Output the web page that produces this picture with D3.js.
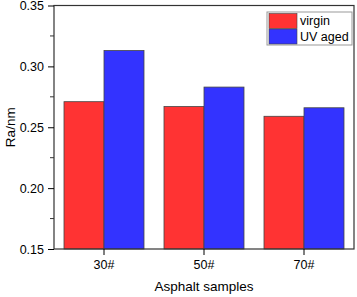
<!DOCTYPE html>
<html>
<head>
<meta charset="utf-8">
<script src="https://cdn.jsdelivr.net/npm/d3@7"></script>
<style>
  body { margin: 0; background: #fff; }
  text { font-family: "Liberation Sans", Arial, sans-serif; }
</style>
</head>
<body>
<script>
const categories = ["30#", "50#", "70#"];
const seriesNames = ["virgin", "UV aged"];
const virgin = [0.271, 0.267, 0.259];
const uvAged = [0.313, 0.283, 0.266];
const yTicks = [0.15, 0.20, 0.25, 0.30, 0.35];
const colors = ["#ff3333", "#3333ff"];

const w = 357, h = 297;
const padL = 54, padR = 354, padT = 5.5, padB = 249;

const svg = d3.select("body").append("svg")
  .attr("width", w).attr("height", h);

const x0 = d3.scaleBand().domain(categories).range([padL, padR]).paddingInner(0.2).paddingOuter(0.1);
const x1 = d3.scaleBand().domain(seriesNames).range([0, x0.bandwidth()]);
const y = d3.scaleLinear().domain([0.15, 0.35]).range([padB, padT]);

const series = [virgin, uvAged];

// bars
categories.forEach((c, i) => {
  seriesNames.forEach((s, j) => {
    svg.append("rect")
      .attr("x", x0(c) + x1(s))
      .attr("y", y(series[j][i]))
      .attr("width", x1.bandwidth())
      .attr("height", y(0.15) - y(series[j][i]))
      .attr("fill", colors[j])
      .attr("stroke", "#444")
      .attr("stroke-width", 0.8);
  });
});

// frame
svg.append("rect")
  .attr("x", padL).attr("y", padT)
  .attr("width", padR - padL).attr("height", padB - padT)
  .attr("fill", "none").attr("stroke", "#333").attr("stroke-width", 1.2);

// y axis
const yAxis = d3.axisLeft(y).tickValues(yTicks).tickFormat(d3.format(".2f")).tickSize(6).tickPadding(4);
const gy = svg.append("g").attr("transform", `translate(${padL},0)`).call(yAxis);
gy.select(".domain").remove();
gy.selectAll("text").style("font-size", "12.5px").attr("fill", "#000");

// minor ticks
const minor = d3.range(0.175, 0.35, 0.05);
svg.append("g").selectAll("line").data(minor).enter().append("line")
  .attr("x1", padL - 4).attr("x2", padL)
  .attr("y1", d => y(d)).attr("y2", d => y(d))
  .attr("stroke", "#333");

// x axis
const xAxis = d3.axisBottom(x0).tickSize(6).tickPadding(5);
const gx = svg.append("g").attr("transform", `translate(0,${padB})`).call(xAxis);
gx.select(".domain").remove();
gx.selectAll("text").style("font-size", "12.5px").attr("fill", "#000");

// axis titles
svg.append("text")
  .attr("x", (padL + padR) / 2).attr("y", 291)
  .attr("text-anchor", "middle")
  .style("font-size", "13.5px")
  .text("Asphalt samples");

svg.append("text")
  .attr("transform", `translate(15,${(padT + padB) / 2}) rotate(-90)`)
  .attr("text-anchor", "middle")
  .style("font-size", "13.5px")
  .text("Ra/nm");

// legend
const lg = svg.append("g").attr("transform", "translate(267,12)");
lg.append("rect").attr("width", 85).attr("height", 33)
  .attr("fill", "#fff").attr("stroke", "#999");
seriesNames.forEach((s, j) => {
  lg.append("rect")
    .attr("x", 2).attr("y", 1.5 + j * 15.5)
    .attr("width", 28).attr("height", 15)
    .attr("fill", colors[j]).attr("stroke", "#444").attr("stroke-width", 0.6);
  lg.append("text")
    .attr("x", 33).attr("y", 13 + j * 15.5)
    .style("font-size", "12.5px")
    .text(s);
});
</script>
</body>
</html>
